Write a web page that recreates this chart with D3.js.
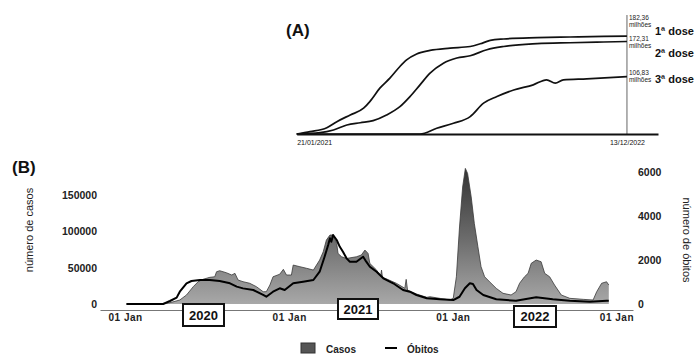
<!DOCTYPE html>
<html>
<head>
<meta charset="utf-8">
<script src="https://cdn.jsdelivr.net/npm/d3@7"></script>
<style>
  body { margin: 0; background: #fff; }
  svg { display: block; font-family: Arial, "Liberation Sans", sans-serif; }
</style>
</head>
<body>
<svg id="chart" width="698" height="362"></svg>
<script>
const parse = d3.timeParse("%Y-%m-%d");

// (A) doses aplicadas, acumulado em milhões
const dose1 = [["2021-01-21",0],["2021-02-18",4.3],["2021-03-25",11.8],["2021-04-15",23],["2021-05-13",35.5],
  ["2021-06-10",48],["2021-06-23",60.4],["2021-07-14",85.4],["2021-08-04",104],["2021-08-25",125.8],
  ["2021-09-08",138],["2021-09-29",149],["2021-10-27",155.7],["2021-12-08",160],["2022-01-19",163],
  ["2022-02-09",168],["2022-03-02",174.4],["2022-03-30",177],["2022-06-08",179.4],["2022-08-16",180.7],
  ["2022-10-25",181.9],["2022-12-13",182.36]];
const dose2 = [["2021-01-21",0],["2021-03-11",2.5],["2021-04-08",7.5],["2021-05-06",16.8],["2021-06-03",21],
  ["2021-06-30",25],["2021-07-28",35.5],["2021-08-25",51],["2021-09-15",69.7],["2021-10-06",91.6],
  ["2021-10-27",113.4],["2021-11-24",132],["2021-12-22",141.5],["2022-01-19",145.8],["2022-02-23",157],
  ["2022-03-30",163],["2022-06-08",168.2],["2022-08-16",170],["2022-10-25",171.4],["2022-12-13",172.31]];
const dose3 = [["2021-01-21",0],["2021-10-06",0],["2021-11-10",10.6],["2021-12-15",20],["2022-01-19",32.4],
  ["2022-02-16",57.4],["2022-03-16",69.7],["2022-04-20",82],["2022-05-31",91.6],["2022-06-28",101],
  ["2022-07-16",94.7],["2022-08-02",101],["2022-09-20",102.8],["2022-12-13",106.83]];
const doseNames = ["1ª dose", "2ª dose", "3ª dose"];
const doseTotals = ["182,36", "172,31", "106,83"];
const doseDates = ["2021-01-21", "2022-12-13"];

// (B) casos e óbitos diários (média móvel)
const casos = [["2020-01-04",0],["2020-03-15",0],["2020-04-10",1800],["2020-05-02",5500],["2020-05-17",12400],
  ["2020-06-01",23800],["2020-06-12",30700],["2020-06-23",34000],["2020-07-08",36700],["2020-07-19",37500],
  ["2020-07-23",44400],["2020-07-30",45800],["2020-08-14",43000],["2020-08-26",39900],["2020-09-02",42200],
  ["2020-09-09",33000],["2020-09-20",30700],["2020-10-05",28500],["2020-10-20",23800],["2020-11-04",16900],
  ["2020-11-11",16900],["2020-11-19",26100],["2020-11-26",37500],["2020-12-11",41000],["2020-12-19",47700],
  ["2020-12-26",39900],["2021-01-06",39900],["2021-01-10",53600],["2021-01-25",51300],["2021-02-09",49100],
  ["2021-02-24",46700],["2021-03-10",60500],["2021-03-18",71900],["2021-03-25",88000],["2021-04-02",94900],
  ["2021-04-09",94900],["2021-04-17",83400],["2021-04-20",69600],["2021-04-28",65000],["2021-05-09",62700],
  ["2021-05-31",65000],["2021-06-11",67400],["2021-06-19",74200],["2021-06-26",69600],["2021-06-30",55800],
  ["2021-07-15",46700],["2021-07-24",38000],["2021-07-26",46700],["2021-07-28",37000],["2021-08-28",28500],
  ["2021-09-16",21600],["2021-09-19",33900],["2021-09-22",19200],["2021-10-12",13700],["2021-11-04",9200],
  ["2021-11-11",10000],["2021-12-03",7800],["2021-12-25",5500],["2022-01-02",7800],["2022-01-09",37500],
  ["2022-01-16",106000],["2022-01-23",161000],["2022-01-29",186600],["2022-02-03",179700],["2022-02-11",147500],
  ["2022-02-18",111000],["2022-02-26",78800],["2022-03-05",51300],["2022-03-13",37500],["2022-03-24",30600],
  ["2022-04-08",21500],["2022-04-23",14700],["2022-05-11",12400],["2022-05-22",16900],["2022-05-30",28500],
  ["2022-06-10",37500],["2022-06-18",42200],["2022-06-25",56000],["2022-07-06",60500],["2022-07-17",58200],
  ["2022-07-25",42200],["2022-08-05",37500],["2022-08-16",26100],["2022-08-31",12400],["2022-09-19",7800],
  ["2022-10-19",6400],["2022-11-10",5500],["2022-11-18",16900],["2022-11-29",28500],["2022-12-10",30600],
  ["2022-12-15",26100]];
const obitos = [["2020-01-04",0],["2020-03-26",0],["2020-04-10",136],["2020-04-25",290],["2020-05-02",560],
  ["2020-05-17",940],["2020-05-28",1045],["2020-06-16",1090],["2020-07-08",1090],["2020-07-30",1045],
  ["2020-08-22",940],["2020-09-06",790],["2020-09-20",710],["2020-10-13",636],["2020-11-04",410],
  ["2020-11-11",330],["2020-11-26",560],["2020-12-11",714],["2020-12-22",636],["2021-01-10",941],
  ["2021-02-01",1014],["2021-02-24",1090],["2021-03-10",1468],["2021-03-21",2150],["2021-03-29",2680],
  ["2021-04-02",2986],["2021-04-05",2830],["2021-04-09",3136],["2021-04-17",2909],["2021-04-24",2600],
  ["2021-05-01",2377],["2021-05-09",2077],["2021-05-16",1923],["2021-05-31",1923],["2021-06-15",2150],
  ["2021-06-22",1923],["2021-06-30",1695],["2021-07-15",1468],["2021-07-30",1168],["2021-08-21",941],
  ["2021-09-12",636],["2021-09-27",560],["2021-10-12",410],["2021-11-04",260],["2021-12-03",214],
  ["2022-01-02",180],["2022-01-16",330],["2022-01-28",714],["2022-02-08",940],["2022-02-15",909],
  ["2022-02-23",636],["2022-03-10",410],["2022-04-08",214],["2022-05-22",150],["2022-07-06",305],
  ["2022-08-12",214],["2022-09-19",150],["2022-11-03",105],["2022-12-10",150],["2022-12-15",150]];
const yearTicks = ["2020-01-01", "2021-01-01", "2022-01-01", "2023-01-01"];
const yearNames = ["2020", "2021", "2022"];
const casosTicks = [0, 50000, 100000, 150000];
const obitosTicks = [0, 2000, 4000, 6000];

const toPts = arr => arr.map(d => ({date: parse(d[0]), value: d[1]}));

const svg = d3.select("#chart");

// ---------- painel A ----------
const xA = d3.scaleTime()
  .domain([parse("2021-01-21"), parse("2023-02-16")])
  .range([296.7, 658]);
const yA = d3.scaleLinear().domain([0, 190]).range([134, 32]);

const lineA = d3.line()
  .x(d => xA(d.date))
  .y(d => yA(d.value))
  .curve(d3.curveMonotoneX);

const endX = xA(parse(doseDates[1]));
svg.append("line")
  .attr("x1", endX).attr("x2", endX)
  .attr("y1", 15).attr("y2", yA(0))
  .attr("stroke", "#999").attr("stroke-width", 1.5);

[dose1, dose2, dose3].forEach(s => {
  svg.append("path")
    .datum(toPts(s))
    .attr("d", lineA)
    .attr("fill", "none")
    .attr("stroke", "#111")
    .attr("stroke-width", 1.7);
});

const axA = svg.append("g")
  .attr("transform", `translate(0,${yA(0)})`)
  .call(d3.axisBottom(xA)
    .tickValues(doseDates.map(parse))
    .tickFormat(d3.timeFormat("%d/%m/%Y"))
    .tickSize(0).tickPadding(6));
axA.select(".domain").attr("stroke", "#111").attr("stroke-width", 2);
axA.selectAll("text")
  .attr("font-family", "'Liberation Sans Narrow', 'Arial Narrow', sans-serif")
  .attr("font-size", 7).attr("fill", "#111")
  .attr("text-anchor", (d, i) => i === 0 ? "start" : "middle");

const numY = [20, 41, 75];
const nameY = [35, 57, 83];
doseTotals.forEach((t, i) => {
  svg.append("text").attr("x", endX + 2).attr("y", numY[i])
    .attr("font-family", "'Liberation Sans Narrow', 'Arial Narrow', sans-serif")
    .attr("font-size", 6.5).attr("fill", "#222").text(t);
  svg.append("text").attr("x", endX + 2).attr("y", numY[i] + 7)
    .attr("font-family", "'Liberation Sans Narrow', 'Arial Narrow', sans-serif")
    .attr("font-size", 6.5).attr("fill", "#222").text("milhões");
});
doseNames.forEach((n, i) => {
  svg.append("text").attr("x", 655).attr("y", nameY[i])
    .attr("font-size", 11).attr("font-weight", "bold").attr("fill", "#111").text(n);
});

svg.append("text").attr("x", 286).attr("y", 36)
  .attr("font-size", 17).attr("font-weight", "bold").attr("fill", "#111").text("(A)");

// ---------- painel B ----------
const xB = d3.scaleTime()
  .domain([parse("2019-11-06"), parse("2023-02-07")])
  .range([100, 633]);
const yC = d3.scaleLinear().domain([0, 150000]).range([304, 195]);
const yO = d3.scaleLinear().domain([0, 6000]).range([304, 172]);

const defs = svg.append("defs");
const grad = defs.append("linearGradient")
  .attr("id", "gcasos")
  .attr("gradientUnits", "userSpaceOnUse")
  .attr("x1", 0).attr("x2", 0).attr("y1", 165).attr("y2", 304);
grad.append("stop").attr("offset", "0%").attr("stop-color", "#303030");
grad.append("stop").attr("offset", "55%").attr("stop-color", "#6e6e6e");
grad.append("stop").attr("offset", "100%").attr("stop-color", "#a8a8a8");

const casosPts = toPts(casos);
svg.append("path")
  .datum(casosPts)
  .attr("d", d3.area().x(d => xB(d.date)).y0(yC(0)).y1(d => yC(d.value)))
  .attr("fill", "url(#gcasos)");
svg.append("path")
  .datum(casosPts)
  .attr("d", d3.line().x(d => xB(d.date)).y(d => yC(d.value)))
  .attr("fill", "none").attr("stroke", "#3a3a3a").attr("stroke-width", 0.8);

svg.append("path")
  .datum(toPts(obitos))
  .attr("d", d3.line().x(d => xB(d.date)).y(d => yO(d.value)))
  .attr("fill", "none").attr("stroke", "#000").attr("stroke-width", 2)
  .attr("stroke-linejoin", "round");

const axB = svg.append("g")
  .attr("transform", "translate(0,310)")
  .call(d3.axisBottom(xB)
    .tickValues(yearTicks.map(parse))
    .tickFormat(d3.timeFormat("%d %b"))
    .tickSize(0).tickPadding(4));
axB.select(".domain").attr("stroke", "#777").attr("stroke-width", 1);
axB.selectAll("text")
  .attr("font-size", 10).attr("font-weight", "bold")
  .attr("letter-spacing", 0.5).attr("fill", "#222");

const axL = svg.append("g")
  .attr("transform", "translate(100,0)")
  .call(d3.axisLeft(yC).tickValues(casosTicks).tickFormat(d3.format("d")).tickSize(0).tickPadding(3));
axL.select(".domain").remove();
axL.selectAll("text").attr("font-size", 10.5).attr("font-weight", "bold").attr("fill", "#222");

const axR = svg.append("g")
  .attr("transform", "translate(636,0)")
  .call(d3.axisRight(yO).tickValues(obitosTicks).tickFormat(d3.format("d")).tickSize(0).tickPadding(2));
axR.select(".domain").remove();
axR.selectAll("text").attr("font-size", 10.5).attr("font-weight", "bold").attr("fill", "#222");

svg.append("text")
  .attr("transform", "translate(33,230) rotate(-90)")
  .attr("text-anchor", "middle")
  .attr("font-size", 11).attr("fill", "#222").text("número de casos");
svg.append("text")
  .attr("transform", "translate(683,240) rotate(90)")
  .attr("text-anchor", "middle")
  .attr("font-size", 11).attr("fill", "#222").text("número de óbitos");

// caixas dos anos
const boxLayout = [
  {x: 183, y: 304, w: 41, h: 22},
  {x: 338, y: 299, w: 40, h: 20},
  {x: 514, y: 306, w: 42, h: 21}
];
yearNames.forEach((n, i) => {
  const b = boxLayout[i];
  svg.append("rect")
    .attr("x", b.x).attr("y", b.y).attr("width", b.w).attr("height", b.h)
    .attr("fill", "#fff").attr("stroke", "#111").attr("stroke-width", 2);
  svg.append("text")
    .attr("x", b.x + b.w / 2).attr("y", b.y + b.h / 2 + 4.5)
    .attr("text-anchor", "middle")
    .attr("font-size", 13).attr("font-weight", "bold").attr("fill", "#111").text(n);
});

svg.append("text").attr("x", 12).attr("y", 173)
  .attr("font-size", 17).attr("font-weight", "bold").attr("fill", "#111").text("(B)");

// legenda
svg.append("rect")
  .attr("x", 301).attr("y", 343).attr("width", 14).attr("height", 10)
  .attr("fill", "#555").attr("stroke", "#333").attr("stroke-width", 1);
svg.append("text").attr("x", 326).attr("y", 352.5)
  .attr("font-size", 10).attr("font-weight", "bold").attr("fill", "#222").text("Casos");
svg.append("line")
  .attr("x1", 385).attr("x2", 397).attr("y1", 348).attr("y2", 348)
  .attr("stroke", "#000").attr("stroke-width", 2);
svg.append("text").attr("x", 407).attr("y", 352.5)
  .attr("font-size", 10).attr("font-weight", "bold").attr("fill", "#222").text("Óbitos");
</script>
</body>
</html>
